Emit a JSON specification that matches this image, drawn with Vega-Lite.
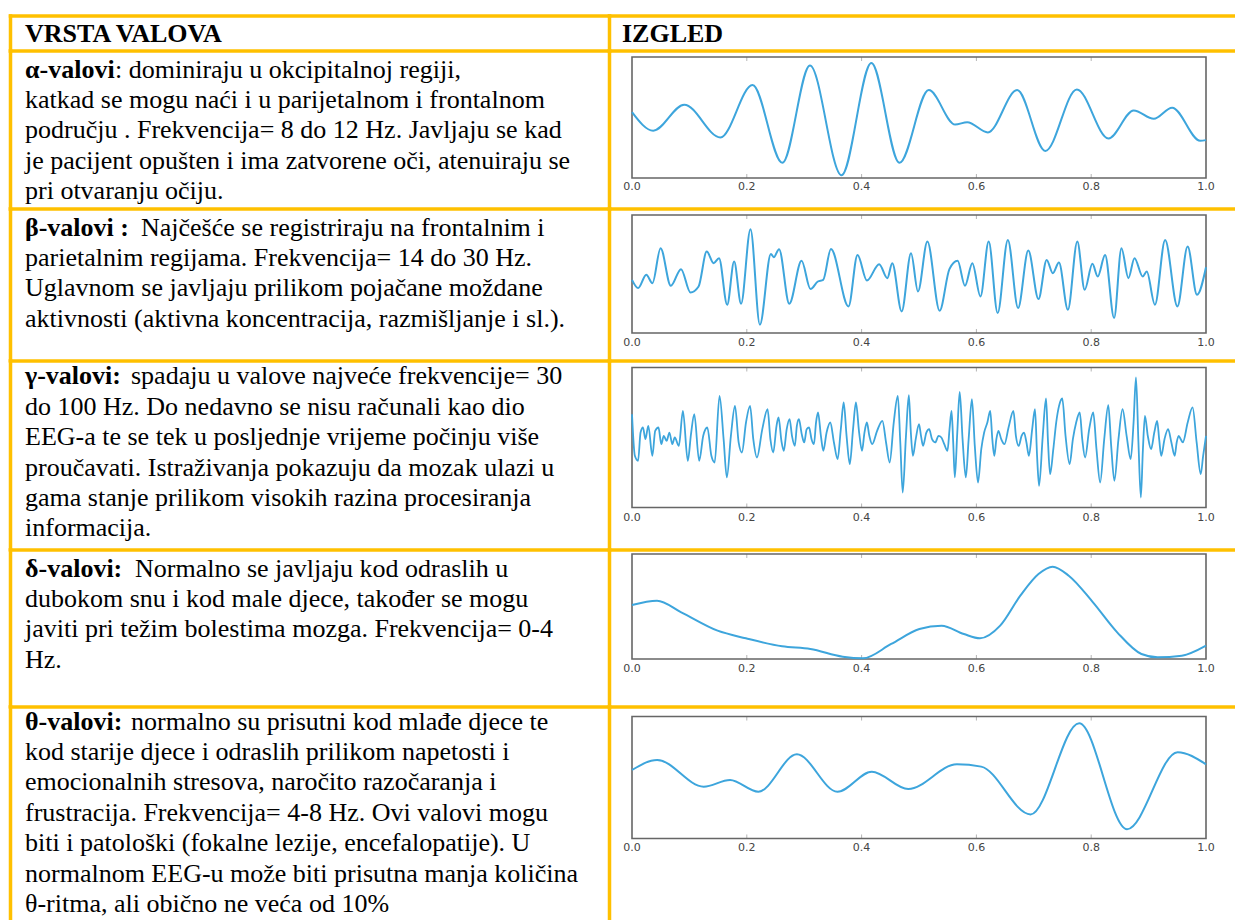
{
  "$schema": "https://vega.github.io/schema/vega-lite/v6.json",
  "background": "white",
  "padding": {"left": 10, "top": 15.5, "right": 0, "bottom": 0},
  "columns": 2,
  "spacing": 0,
  "bounds": "flush",
  "align": "each",
  "config": {
    "view": {"stroke": null},
    "concat": {"spacing": 0},
    "text": {"font": "Liberation Serif", "fontSize": 26, "color": "#000000"},
    "axis": {"labels": false, "ticks": false, "grid": false, "domain": true, "domainColor": "#FFC000", "domainWidth": 3.5, "domainCap": "square"}
  },
  "datasets": {
    "lines": [
      {"cell": "head", "line": 1, "bold": "VRSTA VALOVA"},
      {"cell": "headR", "line": 1, "bold": "IZGLED"},
      {"cell": "alpha", "line": 1, "bold": "α-valovi", "text": ": dominiraju u okcipitalnoj regiji,"},
      {"cell": "alpha", "line": 2, "text": "katkad se mogu naći i u parijetalnom i frontalnom"},
      {"cell": "alpha", "line": 3, "text": "području . Frekvencija= 8 do 12 Hz. Javljaju se kad"},
      {"cell": "alpha", "line": 4, "text": "je pacijent opušten i ima zatvorene oči, atenuiraju se"},
      {"cell": "alpha", "line": 5, "text": "pri otvaranju očiju."},
      {"cell": "beta", "line": 1, "bold": "β-valovi :", "text": "Najčešće se registriraju na frontalnim i"},
      {"cell": "beta", "line": 2, "text": "parietalnim regijama. Frekvencija= 14 do 30 Hz."},
      {"cell": "beta", "line": 3, "text": "Uglavnom se javljaju prilikom pojačane moždane"},
      {"cell": "beta", "line": 4, "text": "aktivnosti (aktivna koncentracija, razmišljanje i sl.)."},
      {"cell": "gamma", "line": 1, "bold": "γ-valovi:", "text": "spadaju u valove najveće frekvencije=  30"},
      {"cell": "gamma", "line": 2, "text": "do 100 Hz.  Do nedavno se nisu računali kao dio"},
      {"cell": "gamma", "line": 3, "text": "EEG-a te se tek u posljednje vrijeme počinju više"},
      {"cell": "gamma", "line": 4, "text": "proučavati. Istraživanja pokazuju da mozak ulazi u"},
      {"cell": "gamma", "line": 5, "text": "gama stanje prilikom visokih razina procesiranja"},
      {"cell": "gamma", "line": 6, "text": "informacija."},
      {"cell": "delta", "line": 1, "bold": "δ-valovi:", "text": "Normalno se javljaju kod odraslih u"},
      {"cell": "delta", "line": 2, "text": "dubokom snu i kod male djece, također se mogu"},
      {"cell": "delta", "line": 3, "text": "javiti pri težim bolestima mozga. Frekvencija= 0-4"},
      {"cell": "delta", "line": 4, "text": "Hz."},
      {"cell": "theta", "line": 1, "bold": "θ-valovi:", "text": "normalno su prisutni kod mlađe djece te"},
      {"cell": "theta", "line": 2, "text": "kod starije djece i odraslih prilikom napetosti i"},
      {"cell": "theta", "line": 3, "text": "emocionalnih stresova, naročito razočaranja i"},
      {"cell": "theta", "line": 4, "text": "frustracija. Frekvencija=  4-8 Hz. Ovi valovi mogu"},
      {"cell": "theta", "line": 5, "text": "biti i patološki (fokalne lezije, encefalopatije). U"},
      {"cell": "theta", "line": 6, "text": "normalnom EEG-u može biti prisutna manja količina"},
      {"cell": "theta", "line": 7, "text": "θ-ritma, ali obično ne veća od 10%"}
    ],
    "ticks": [
      {"tick": 0, "label": "0.0"}, {"tick": 0.2, "label": "0.2"}, {"tick": 0.4, "label": "0.4"},
      {"tick": 0.6, "label": "0.6"}, {"tick": 0.8, "label": "0.8"}, {"tick": 1, "label": "1.0"}
    ],
    "alpha": [
      {"t":0,"v":0.089},{"t":0.037,"v":-0.218},{"t":0.091,"v":0.212},{"t":0.154,"v":-0.33},{"t":0.21,"v":0.536},
      {"t":0.262,"v":-0.749},{"t":0.31,"v":0.86},{"t":0.365,"v":-0.955},{"t":0.417,"v":0.899},{"t":0.466,"v":-0.749},
      {"t":0.517,"v":0.453},{"t":0.563,"v":-0.117},{"t":0.584,"v":-0.078},{"t":0.62,"v":-0.246},{"t":0.671,"v":0.453},
      {"t":0.72,"v":-0.553},{"t":0.775,"v":0.464},{"t":0.83,"v":-0.346},{"t":0.874,"v":0.117},{"t":0.909,"v":-0.022},
      {"t":0.941,"v":0.162},{"t":0.99,"v":-0.385},{"t":1,"v":-0.374}
    ],
    "beta": [
      {"t":0,"v":-0.099},{"t":0.0107,"v":-0.239},{"t":0.0249,"v":-0.014},{"t":0.0356,"v":-0.155},{"t":0.0498,"v":0.437},
      {"t":0.0676,"v":-0.2},{"t":0.0854,"v":0.082},{"t":0.1018,"v":-0.313},{"t":0.116,"v":-0.211},{"t":0.1302,"v":0.38},
      {"t":0.1423,"v":0.183},{"t":0.1516,"v":0.268},{"t":0.1658,"v":-0.521},{"t":0.1779,"v":0.211},{"t":0.19,"v":-0.504},
      {"t":0.2064,"v":0.758},{"t":0.2228,"v":-0.859},{"t":0.242,"v":0.341},{"t":0.247,"v":0.285},{"t":0.2562,"v":0.42},
      {"t":0.274,"v":-0.504},{"t":0.2954,"v":0.223},{"t":0.311,"v":-0.256},{"t":0.3238,"v":-0.127},{"t":0.3331,"v":-0.099},
      {"t":0.3466,"v":0.425},{"t":0.3772,"v":-0.549},{"t":0.3929,"v":0.324},{"t":0.4093,"v":-0.11},{"t":0.4306,"v":0.166},
      {"t":0.4448,"v":-0.07},{"t":0.4534,"v":0.183},{"t":0.4698,"v":-0.634},{"t":0.4861,"v":0.352},{"t":0.4982,"v":-0.296},
      {"t":0.5146,"v":0.549},{"t":0.5359,"v":-0.623},{"t":0.553,"v":0.082},{"t":0.5673,"v":0.223},{"t":0.5801,"v":-0.2},
      {"t":0.5929,"v":0.183},{"t":0.6071,"v":-0.38},{"t":0.6214,"v":0.549},{"t":0.637,"v":-0.662},{"t":0.6548,"v":0.577},
      {"t":0.6726,"v":-0.577},{"t":0.6904,"v":0.397},{"t":0.7082,"v":-0.425},{"t":0.7224,"v":0.239},{"t":0.7331,"v":0.014},
      {"t":0.7438,"v":0.194},{"t":0.7594,"v":-0.606},{"t":0.7758,"v":0.549},{"t":0.7886,"v":-0.268},{"t":0.8021,"v":0.172},
      {"t":0.8114,"v":-0.042},{"t":0.8242,"v":0.324},{"t":0.8399,"v":-0.746},{"t":0.8527,"v":0.437},{"t":0.8648,"v":-0.07},
      {"t":0.8754,"v":0.268},{"t":0.8897,"v":-0.042},{"t":0.8968,"v":0.042},{"t":0.911,"v":-0.521},{"t":0.9288,"v":0.577},
      {"t":0.9502,"v":-0.549},{"t":0.968,"v":0.465},{"t":0.9843,"v":-0.352},{"t":1,"v":0.115}
    ],
    "gamma": [
      {"t":0,"v":0.333},{"t":0.005,"v":-0.262},{"t":0.0106,"v":-0.333},{"t":0.0149,"v":0.071},{"t":0.0191,"v":0.143},
      {"t":0.0234,"v":-0.024},{"t":0.0284,"v":0.167},{"t":0.0355,"v":-0.262},{"t":0.0404,"v":0.095},{"t":0.0461,"v":0.143},
      {"t":0.0511,"v":-0.095},{"t":0.0553,"v":0.024},{"t":0.0603,"v":-0.048},{"t":0.0652,"v":0.071},{"t":0.0702,"v":-0.095},
      {"t":0.0745,"v":0.0},{"t":0.0816,"v":-0.119},{"t":0.0887,"v":0.381},{"t":0.0972,"v":-0.333},{"t":0.1028,"v":0.048},
      {"t":0.1085,"v":0.333},{"t":0.117,"v":-0.333},{"t":0.1241,"v":0.024},{"t":0.1312,"v":0.143},{"t":0.1383,"v":-0.262},
      {"t":0.144,"v":-0.357},{"t":0.1525,"v":0.595},{"t":0.1596,"v":-0.024},{"t":0.1652,"v":-0.571},{"t":0.1723,"v":0.024},
      {"t":0.1794,"v":0.452},{"t":0.1858,"v":-0.071},{"t":0.1915,"v":-0.214},{"t":0.1986,"v":0.214},{"t":0.2057,"v":0.452},
      {"t":0.2113,"v":-0.024},{"t":0.2177,"v":-0.286},{"t":0.227,"v":0.119},{"t":0.2362,"v":0.405},{"t":0.2411,"v":-0.024},
      {"t":0.2461,"v":-0.214},{"t":0.2518,"v":0.167},{"t":0.2553,"v":0.286},{"t":0.2603,"v":-0.048},{"t":0.2645,"v":-0.19},
      {"t":0.2695,"v":0.119},{"t":0.2745,"v":0.262},{"t":0.2787,"v":0.024},{"t":0.2837,"v":-0.119},{"t":0.2872,"v":0.167},
      {"t":0.2908,"v":0.262},{"t":0.2957,"v":0.048},{"t":0.3,"v":-0.071},{"t":0.3043,"v":0.119},{"t":0.3085,"v":0.143},
      {"t":0.3128,"v":-0.024},{"t":0.317,"v":-0.095},{"t":0.3206,"v":0.214},{"t":0.3241,"v":0.357},{"t":0.3291,"v":0.024},
      {"t":0.3333,"v":-0.19},{"t":0.339,"v":0.071},{"t":0.3454,"v":0.214},{"t":0.3518,"v":-0.071},{"t":0.3582,"v":-0.31},
      {"t":0.3638,"v":0.119},{"t":0.3688,"v":0.5},{"t":0.3738,"v":0.024},{"t":0.3794,"v":-0.381},{"t":0.3851,"v":0.119},
      {"t":0.3901,"v":0.5},{"t":0.3957,"v":0.071},{"t":0.4007,"v":-0.19},{"t":0.405,"v":0.071},{"t":0.4092,"v":0.214},
      {"t":0.4135,"v":0.024},{"t":0.4184,"v":-0.095},{"t":0.427,"v":0.095},{"t":0.4362,"v":0.238},{"t":0.4426,"v":-0.071},
      {"t":0.4489,"v":-0.357},{"t":0.456,"v":0.214},{"t":0.4631,"v":0.595},{"t":0.4674,"v":-0.071},{"t":0.4716,"v":-0.786},
      {"t":0.4773,"v":0.024},{"t":0.4823,"v":0.605},{"t":0.4858,"v":0.071},{"t":0.4894,"v":-0.262},{"t":0.4943,"v":-0.024},
      {"t":0.5,"v":0.19},{"t":0.5035,"v":0.024},{"t":0.5071,"v":-0.119},{"t":0.5128,"v":0.071},{"t":0.5177,"v":0.119},
      {"t":0.5227,"v":-0.024},{"t":0.5284,"v":-0.071},{"t":0.534,"v":0.024},{"t":0.539,"v":0.0},{"t":0.544,"v":-0.095},
      {"t":0.5496,"v":-0.19},{"t":0.5532,"v":0.119},{"t":0.5567,"v":0.381},{"t":0.5596,"v":-0.071},{"t":0.5624,"v":-0.571},
      {"t":0.5667,"v":0.071},{"t":0.5709,"v":0.652},{"t":0.5759,"v":-0.024},{"t":0.5816,"v":-0.571},{"t":0.5865,"v":-0.024},
      {"t":0.5922,"v":0.548},{"t":0.5972,"v":-0.119},{"t":0.6028,"v":-0.643},{"t":0.6085,"v":-0.167},{"t":0.6135,"v":0.071},
      {"t":0.6191,"v":0.214},{"t":0.6241,"v":0.381},{"t":0.6277,"v":-0.024},{"t":0.6312,"v":-0.262},{"t":0.6348,"v":-0.024},
      {"t":0.6383,"v":0.095},{"t":0.6433,"v":-0.024},{"t":0.6489,"v":-0.095},{"t":0.656,"v":0.143},{"t":0.6645,"v":0.381},
      {"t":0.6688,"v":0.024},{"t":0.6738,"v":-0.119},{"t":0.6787,"v":0.024},{"t":0.683,"v":0.071},{"t":0.6872,"v":-0.071},
      {"t":0.6915,"v":-0.262},{"t":0.6972,"v":0.119},{"t":0.7021,"v":0.405},{"t":0.7057,"v":-0.262},{"t":0.7092,"v":-0.69},
      {"t":0.7156,"v":0.024},{"t":0.7213,"v":0.557},{"t":0.7248,"v":-0.071},{"t":0.7284,"v":-0.524},{"t":0.734,"v":-0.167},
      {"t":0.739,"v":0.214},{"t":0.744,"v":0.452},{"t":0.7496,"v":0.557},{"t":0.7553,"v":0.024},{"t":0.7624,"v":-0.381},
      {"t":0.7681,"v":-0.024},{"t":0.7738,"v":0.214},{"t":0.7801,"v":0.357},{"t":0.7844,"v":-0.024},{"t":0.7894,"v":-0.286},
      {"t":0.7965,"v":0.119},{"t":0.8035,"v":0.357},{"t":0.8092,"v":-0.167},{"t":0.8156,"v":-0.643},{"t":0.8227,"v":-0.024},
      {"t":0.8298,"v":0.462},{"t":0.8348,"v":-0.119},{"t":0.8404,"v":-0.619},{"t":0.8475,"v":-0.024},{"t":0.8546,"v":0.405},
      {"t":0.8617,"v":0.024},{"t":0.8688,"v":-0.31},{"t":0.8738,"v":0.214},{"t":0.878,"v":0.857},{"t":0.8823,"v":-0.071},
      {"t":0.8865,"v":-0.857},{"t":0.8901,"v":-0.167},{"t":0.8936,"v":0.31},{"t":0.8986,"v":0.024},{"t":0.9043,"v":-0.167},
      {"t":0.9099,"v":0.071},{"t":0.9149,"v":0.238},{"t":0.9184,"v":-0.024},{"t":0.922,"v":-0.262},{"t":0.9277,"v":-0.024},
      {"t":0.934,"v":0.119},{"t":0.9397,"v":-0.071},{"t":0.9454,"v":-0.262},{"t":0.9489,"v":-0.071},{"t":0.9525,"v":0.024},
      {"t":0.956,"v":-0.024},{"t":0.9596,"v":-0.071},{"t":0.9681,"v":0.214},{"t":0.9766,"v":0.429},{"t":0.9837,"v":-0.071},
      {"t":0.9908,"v":-0.524},{"t":0.995,"v":-0.262},{"t":1,"v":0.024}
    ],
    "delta": [
      {"t":0,"v":0.029},{"t":0.0436,"v":0.111},{"t":0.0858,"v":-0.111},{"t":0.1491,"v":-0.46},{"t":0.1983,"v":-0.606},
      {"t":0.2616,"v":-0.759},{"t":0.3108,"v":-0.81},{"t":0.3671,"v":-0.956},{"t":0.4023,"v":-0.987},{"t":0.4515,"v":-0.714},
      {"t":0.5007,"v":-0.429},{"t":0.5394,"v":-0.365},{"t":0.5781,"v":-0.524},{"t":0.6062,"v":-0.606},{"t":0.6414,"v":-0.365},
      {"t":0.6765,"v":0.206},{"t":0.7082,"v":0.619},{"t":0.7328,"v":0.759},{"t":0.7609,"v":0.587},{"t":0.8031,"v":0.079},
      {"t":0.8453,"v":-0.492},{"t":0.8875,"v":-0.905},{"t":0.9156,"v":-0.968},{"t":0.9578,"v":-0.937},{"t":1,"v":-0.746}
    ],
    "theta": [
      {"t":0,"v":0.123},{"t":0.0438,"v":0.288},{"t":0.1249,"v":-0.151},{"t":0.1708,"v":-0.041},{"t":0.2202,"v":-0.233},
      {"t":0.2872,"v":0.381},{"t":0.3578,"v":-0.233},{"t":0.4178,"v":0.096},{"t":0.4813,"v":-0.189},{"t":0.566,"v":0.216},
      {"t":0.6083,"v":0.178},{"t":0.6944,"v":-0.605},{"t":0.7791,"v":0.89},{"t":0.8624,"v":-0.847},{"t":0.9506,"v":0.414},
      {"t":1,"v":0.216}
    ]
  },
  "concat": [
    {
      "width": 599, "height": 35,
      "data": {"name": "lines"},
      "transform": [{"filter": "datum.cell == 'head'"}],
      "encoding": {
        "x": {"datum": 0, "type": "quantitative", "scale": {"domain": [-0.02504, 0.97496], "nice": false, "zero": false}, "axis": {"orient": "top", "title": null}},
        "y": {"field": "line", "type": "quantitative", "scale": {"domain": [0.11184, 1.26316], "reverse": true, "nice": false, "zero": false}, "axis": {"orient": "left", "title": null}}
      },
      "layer": [
        {"mark": {"type": "text", "font": "Liberation Serif", "fontSize": 26, "align": "left", "baseline": "alphabetic", "fontWeight": "bold"}, "encoding": {"text": {"field": "bold"}}}
      ]
    },
    {
      "width": 626, "height": 35,
      "data": {"name": "lines"},
      "transform": [{"filter": "datum.cell == 'headR'"}],
      "encoding": {
        "x": {"datum": 0, "type": "quantitative", "scale": {"domain": [-0.02077, 0.97923], "nice": false, "zero": false}, "axis": {"orient": "top", "title": null}},
        "y": {"field": "line", "type": "quantitative", "scale": {"domain": [0.11184, 1.26316], "reverse": true, "nice": false, "zero": false}, "axis": {"orient": "left", "title": null}}
      },
      "layer": [
        {"mark": {"type": "text", "font": "Liberation Serif", "fontSize": 26, "align": "left", "baseline": "alphabetic", "fontWeight": "bold"}, "encoding": {"text": {"field": "bold"}}}
      ]
    },
    {
      "width": 599, "height": 158,
      "data": {"name": "lines"},
      "transform": [{"filter": "datum.cell == 'alpha'"}],
      "encoding": {
        "x": {"datum": 0, "type": "quantitative", "scale": {"domain": [-0.02504, 0.97496], "nice": false, "zero": false}, "axis": {"orient": "top", "title": null}},
        "y": {"field": "line", "type": "quantitative", "scale": {"domain": [0.11184, 5.30921], "reverse": true, "nice": false, "zero": false}, "axis": {"orient": "left", "title": null}}
      },
      "layer": [
        {"transform": [{"filter": "datum.bold"}], "mark": {"type": "text", "font": "Liberation Serif", "fontSize": 26, "align": "left", "baseline": "alphabetic", "fontWeight": "bold"}, "encoding": {"text": {"field": "bold"}}},
        {"transform": [{"filter": "datum.bold"}], "mark": {"type": "text", "font": "Liberation Serif", "fontSize": 26, "align": "left", "baseline": "alphabetic", "dx": 90}, "encoding": {"text": {"field": "text"}}},
        {"transform": [{"filter": "!datum.bold"}], "mark": {"type": "text", "font": "Liberation Serif", "fontSize": 26, "align": "left", "baseline": "alphabetic"}, "encoding": {"text": {"field": "text"}}}
      ]
    },
    {
      "width": 626, "height": 158,
      "encoding": {
        "x": {"type": "quantitative", "scale": {"domain": [-0.04007, 1.05052], "nice": false, "zero": false}, "axis": {"orient": "top", "title": null}},
        "y": {"type": "quantitative", "scale": {"domain": [-1.50413, 1.10744], "nice": false, "zero": false}, "axis": {"orient": "left", "title": null}}
      },
      "layer": [
        {"data": {"name": "ticks"}, "transform": [{"filter": "datum.tick > 0 && datum.tick < 1"}], "mark": {"type": "rule", "color": "#b5b5b5", "strokeWidth": 1},
         "encoding": {"x": {"field": "tick"}, "y": {"datum": 1}, "y2": {"datum": 0.934}}},
        {"data": {"name": "ticks"}, "transform": [{"filter": "datum.tick > 0 && datum.tick < 1"}], "mark": {"type": "rule", "color": "#b5b5b5", "strokeWidth": 1},
         "encoding": {"x": {"field": "tick"}, "y": {"datum": -1}, "y2": {"datum": -0.934}}},
        {"data": {"values": [{"frame": "plot"}]}, "mark": {"type": "rect", "filled": false, "color": "#666666", "strokeWidth": 1.6},
         "encoding": {"x": {"datum": 0}, "x2": {"datum": 1}, "y": {"datum": -1}, "y2": {"datum": 1}}},
        {"data": {"name": "alpha"}, "mark": {"type": "line", "interpolate": "monotone", "color": "#3da5dc", "strokeWidth": 2},
         "encoding": {"x": {"field": "t"}, "y": {"field": "v"}}},
        {"data": {"name": "ticks"}, "mark": {"type": "text", "font": "DejaVu Sans", "fontSize": 11, "color": "#444444", "align": "center", "baseline": "middle"},
         "encoding": {"x": {"field": "tick"}, "y": {"datum": -1.1488}, "text": {"field": "label"}}}
      ]
    },
    {
      "width": 599, "height": 151.5,
      "data": {"name": "lines"},
      "transform": [{"filter": "datum.cell == 'beta'"}],
      "encoding": {
        "x": {"datum": 0, "type": "quantitative", "scale": {"domain": [-0.02504, 0.97496], "nice": false, "zero": false}, "axis": {"orient": "top", "title": null}},
        "y": {"field": "line", "type": "quantitative", "scale": {"domain": [0.11184, 5.09539], "reverse": true, "nice": false, "zero": false}, "axis": {"orient": "left", "title": null}}
      },
      "layer": [
        {"transform": [{"filter": "datum.bold"}], "mark": {"type": "text", "font": "Liberation Serif", "fontSize": 26, "align": "left", "baseline": "alphabetic", "fontWeight": "bold"}, "encoding": {"text": {"field": "bold"}}},
        {"transform": [{"filter": "datum.bold"}], "mark": {"type": "text", "font": "Liberation Serif", "fontSize": 26, "align": "left", "baseline": "alphabetic", "dx": 116}, "encoding": {"text": {"field": "text"}}},
        {"transform": [{"filter": "!datum.bold"}], "mark": {"type": "text", "font": "Liberation Serif", "fontSize": 26, "align": "left", "baseline": "alphabetic"}, "encoding": {"text": {"field": "text"}}}
      ]
    },
    {
      "width": 626, "height": 151.5,
      "encoding": {
        "x": {"type": "quantitative", "scale": {"domain": [-0.04007, 1.05052], "nice": false, "zero": false}, "axis": {"orient": "top", "title": null}},
        "y": {"type": "quantitative", "scale": {"domain": [-1.45763, 1.11017], "nice": false, "zero": false}, "axis": {"orient": "left", "title": null}}
      },
      "layer": [
        {"data": {"name": "ticks"}, "transform": [{"filter": "datum.tick > 0 && datum.tick < 1"}], "mark": {"type": "rule", "color": "#b5b5b5", "strokeWidth": 1},
         "encoding": {"x": {"field": "tick"}, "y": {"datum": 1}, "y2": {"datum": 0.932}}},
        {"data": {"name": "ticks"}, "transform": [{"filter": "datum.tick > 0 && datum.tick < 1"}], "mark": {"type": "rule", "color": "#b5b5b5", "strokeWidth": 1},
         "encoding": {"x": {"field": "tick"}, "y": {"datum": -1}, "y2": {"datum": -0.932}}},
        {"data": {"values": [{"frame": "plot"}]}, "mark": {"type": "rect", "filled": false, "color": "#666666", "strokeWidth": 1.6},
         "encoding": {"x": {"datum": 0}, "x2": {"datum": 1}, "y": {"datum": -1}, "y2": {"datum": 1}}},
        {"data": {"name": "beta"}, "mark": {"type": "line", "interpolate": "monotone", "color": "#3da5dc", "strokeWidth": 2},
         "encoding": {"x": {"field": "t"}, "y": {"field": "v"}}},
        {"data": {"name": "ticks"}, "mark": {"type": "text", "font": "DejaVu Sans", "fontSize": 11, "color": "#444444", "align": "center", "baseline": "middle"},
         "encoding": {"x": {"field": "tick"}, "y": {"datum": -1.1695}, "text": {"field": "label"}}}
      ]
    },
    {
      "width": 599, "height": 188.5,
      "data": {"name": "lines"},
      "transform": [{"filter": "datum.cell == 'gamma'"}],
      "encoding": {
        "x": {"datum": 0, "type": "quantitative", "scale": {"domain": [-0.02504, 0.97496], "nice": false, "zero": false}, "axis": {"orient": "top", "title": null}},
        "y": {"field": "line", "type": "quantitative", "scale": {"domain": [0.21053, 6.41119], "reverse": true, "nice": false, "zero": false}, "axis": {"orient": "left", "title": null}}
      },
      "layer": [
        {"transform": [{"filter": "datum.bold"}], "mark": {"type": "text", "font": "Liberation Serif", "fontSize": 26, "align": "left", "baseline": "alphabetic", "fontWeight": "bold"}, "encoding": {"text": {"field": "bold"}}},
        {"transform": [{"filter": "datum.bold"}], "mark": {"type": "text", "font": "Liberation Serif", "fontSize": 26, "align": "left", "baseline": "alphabetic", "dx": 106}, "encoding": {"text": {"field": "text"}}},
        {"transform": [{"filter": "!datum.bold"}], "mark": {"type": "text", "font": "Liberation Serif", "fontSize": 26, "align": "left", "baseline": "alphabetic"}, "encoding": {"text": {"field": "text"}}}
      ]
    },
    {
      "width": 626, "height": 188.5,
      "encoding": {
        "x": {"type": "quantitative", "scale": {"domain": [-0.04007, 1.05052], "nice": false, "zero": false}, "axis": {"orient": "top", "title": null}},
        "y": {"type": "quantitative", "scale": {"domain": [-1.59286, 1.1], "nice": false, "zero": false}, "axis": {"orient": "left", "title": null}}
      },
      "layer": [
        {"data": {"name": "ticks"}, "transform": [{"filter": "datum.tick > 0 && datum.tick < 1"}], "mark": {"type": "rule", "color": "#b5b5b5", "strokeWidth": 1},
         "encoding": {"x": {"field": "tick"}, "y": {"datum": 1}, "y2": {"datum": 0.943}}},
        {"data": {"name": "ticks"}, "transform": [{"filter": "datum.tick > 0 && datum.tick < 1"}], "mark": {"type": "rule", "color": "#b5b5b5", "strokeWidth": 1},
         "encoding": {"x": {"field": "tick"}, "y": {"datum": -1}, "y2": {"datum": -0.943}}},
        {"data": {"values": [{"frame": "plot"}]}, "mark": {"type": "rect", "filled": false, "color": "#666666", "strokeWidth": 1.6},
         "encoding": {"x": {"datum": 0}, "x2": {"datum": 1}, "y": {"datum": -1}, "y2": {"datum": 1}}},
        {"data": {"name": "gamma"}, "mark": {"type": "line", "interpolate": "monotone", "color": "#3da5dc", "strokeWidth": 1.8},
         "encoding": {"x": {"field": "t"}, "y": {"field": "v"}}},
        {"data": {"name": "ticks"}, "mark": {"type": "text", "font": "DejaVu Sans", "fontSize": 11, "color": "#444444", "align": "center", "baseline": "middle"},
         "encoding": {"x": {"field": "tick"}, "y": {"datum": -1.15714}, "text": {"field": "label"}}}
      ]
    },
    {
      "width": 599, "height": 156.5,
      "data": {"name": "lines"},
      "transform": [{"filter": "datum.cell == 'delta'"}],
      "encoding": {
        "x": {"datum": 0, "type": "quantitative", "scale": {"domain": [-0.02504, 0.97496], "nice": false, "zero": false}, "axis": {"orient": "top", "title": null}},
        "y": {"field": "line", "type": "quantitative", "scale": {"domain": [0.11184, 5.25987], "reverse": true, "nice": false, "zero": false}, "axis": {"orient": "left", "title": null}}
      },
      "layer": [
        {"transform": [{"filter": "datum.bold"}], "mark": {"type": "text", "font": "Liberation Serif", "fontSize": 26, "align": "left", "baseline": "alphabetic", "fontWeight": "bold"}, "encoding": {"text": {"field": "bold"}}},
        {"transform": [{"filter": "datum.bold"}], "mark": {"type": "text", "font": "Liberation Serif", "fontSize": 26, "align": "left", "baseline": "alphabetic", "dx": 110}, "encoding": {"text": {"field": "text"}}},
        {"transform": [{"filter": "!datum.bold"}], "mark": {"type": "text", "font": "Liberation Serif", "fontSize": 26, "align": "left", "baseline": "alphabetic"}, "encoding": {"text": {"field": "text"}}}
      ]
    },
    {
      "width": 626, "height": 156.5,
      "encoding": {
        "x": {"type": "quantitative", "scale": {"domain": [-0.04007, 1.05052], "nice": false, "zero": false}, "axis": {"orient": "top", "title": null}},
        "y": {"type": "quantitative", "scale": {"domain": [-1.89524, 1.08571], "nice": false, "zero": false}, "axis": {"orient": "left", "title": null}}
      },
      "layer": [
        {"data": {"name": "ticks"}, "transform": [{"filter": "datum.tick > 0 && datum.tick < 1"}], "mark": {"type": "rule", "color": "#b5b5b5", "strokeWidth": 1},
         "encoding": {"x": {"field": "tick"}, "y": {"datum": 1}, "y2": {"datum": 0.924}}},
        {"data": {"name": "ticks"}, "transform": [{"filter": "datum.tick > 0 && datum.tick < 1"}], "mark": {"type": "rule", "color": "#b5b5b5", "strokeWidth": 1},
         "encoding": {"x": {"field": "tick"}, "y": {"datum": -1}, "y2": {"datum": -0.924}}},
        {"data": {"values": [{"frame": "plot"}]}, "mark": {"type": "rect", "filled": false, "color": "#666666", "strokeWidth": 1.6},
         "encoding": {"x": {"datum": 0}, "x2": {"datum": 1}, "y": {"datum": -1}, "y2": {"datum": 1}}},
        {"data": {"name": "delta"}, "mark": {"type": "line", "interpolate": "monotone", "color": "#3da5dc", "strokeWidth": 2},
         "encoding": {"x": {"field": "t"}, "y": {"field": "v"}}},
        {"data": {"name": "ticks"}, "mark": {"type": "text", "font": "DejaVu Sans", "fontSize": 11, "color": "#444444", "align": "center", "baseline": "middle"},
         "encoding": {"x": {"field": "tick"}, "y": {"datum": -1.19048}, "text": {"field": "label"}}}
      ]
    },
    {
      "width": 599, "height": 215,
      "data": {"name": "lines"},
      "transform": [{"filter": "datum.cell == 'theta'"}],
      "encoding": {
        "x": {"datum": 0, "type": "quantitative", "scale": {"domain": [-0.02504, 0.97496], "nice": false, "zero": false}, "axis": {"orient": "top", "title": null}},
        "y": {"field": "line", "type": "quantitative", "scale": {"domain": [0.24342, 7.31579], "reverse": true, "nice": false, "zero": false}, "axis": {"orient": "left", "title": null}}
      },
      "layer": [
        {"transform": [{"filter": "datum.bold"}], "mark": {"type": "text", "font": "Liberation Serif", "fontSize": 26, "align": "left", "baseline": "alphabetic", "fontWeight": "bold"}, "encoding": {"text": {"field": "bold"}}},
        {"transform": [{"filter": "datum.bold"}], "mark": {"type": "text", "font": "Liberation Serif", "fontSize": 26, "align": "left", "baseline": "alphabetic", "dx": 106}, "encoding": {"text": {"field": "text"}}},
        {"transform": [{"filter": "!datum.bold"}], "mark": {"type": "text", "font": "Liberation Serif", "fontSize": 26, "align": "left", "baseline": "alphabetic"}, "encoding": {"text": {"field": "text"}}}
      ]
    },
    {
      "width": 626, "height": 215,
      "encoding": {
        "x": {"type": "quantitative", "scale": {"domain": [-0.04007, 1.05052], "nice": false, "zero": false}, "axis": {"orient": "top", "title": null}},
        "y": {"type": "quantitative", "scale": {"domain": [-2.36066, 1.16393], "nice": false, "zero": false}, "axis": {"orient": "left", "title": null}}
      },
      "layer": [
        {"data": {"name": "ticks"}, "transform": [{"filter": "datum.tick > 0 && datum.tick < 1"}], "mark": {"type": "rule", "color": "#b5b5b5", "strokeWidth": 1},
         "encoding": {"x": {"field": "tick"}, "y": {"datum": 1}, "y2": {"datum": 0.934}}},
        {"data": {"name": "ticks"}, "transform": [{"filter": "datum.tick > 0 && datum.tick < 1"}], "mark": {"type": "rule", "color": "#b5b5b5", "strokeWidth": 1},
         "encoding": {"x": {"field": "tick"}, "y": {"datum": -1}, "y2": {"datum": -0.934}}},
        {"data": {"values": [{"frame": "plot"}]}, "mark": {"type": "rect", "filled": false, "color": "#666666", "strokeWidth": 1.6},
         "encoding": {"x": {"datum": 0}, "x2": {"datum": 1}, "y": {"datum": -1}, "y2": {"datum": 1}}},
        {"data": {"name": "theta"}, "mark": {"type": "line", "interpolate": "monotone", "color": "#3da5dc", "strokeWidth": 2},
         "encoding": {"x": {"field": "t"}, "y": {"field": "v"}}},
        {"data": {"name": "ticks"}, "mark": {"type": "text", "font": "DejaVu Sans", "fontSize": 11, "color": "#444444", "align": "center", "baseline": "middle"},
         "encoding": {"x": {"field": "tick"}, "y": {"datum": -1.16393}, "text": {"field": "label"}}}
      ]
    }
  ]
}
